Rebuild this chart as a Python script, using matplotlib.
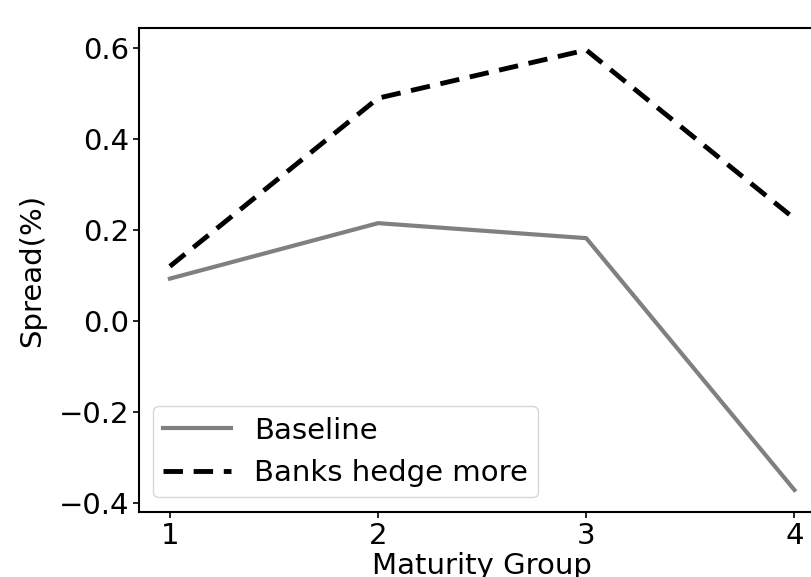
import matplotlib
matplotlib.use("Agg")
import matplotlib.pyplot as plt

# Maturity groups on the x axis
groups = [1, 2, 3, 4]

# Spread (%) per maturity group
baseline = [0.093, 0.215, 0.182, -0.372]
hedge_more = [0.12, 0.49, 0.596, 0.225]

plt.rcParams['font.size'] = 21

fig = plt.figure(figsize=(8.12, 5.77), dpi=100)
# axes run past the right edge, the reference is cropped there
ax = fig.add_axes([0.1708, 0.1127, 0.846, 0.8388])

ax.plot(groups, baseline, color='grey', linewidth=3, label='Baseline')
ax.plot(groups, hedge_more, color='black', linewidth=3.5, linestyle='--',
        dashes=(4, 2.2), label='Banks hedge more')

ax.set_xticks(groups)
ax.set_yticks([-0.4, -0.2, 0.0, 0.2, 0.4, 0.6])
ax.set_xlabel("Maturity Group", labelpad=2)
ax.set_ylabel("Spread(%)", labelpad=9)

for s in ax.spines.values():
    s.set_linewidth(1.5)
ax.tick_params(width=1.2, length=4, pad=3)

ax.legend(loc='lower left', handlelength=2.3, borderpad=0.35,
          labelspacing=0.5, borderaxespad=0.5)

fig.savefig("out.png", dpi=100)
